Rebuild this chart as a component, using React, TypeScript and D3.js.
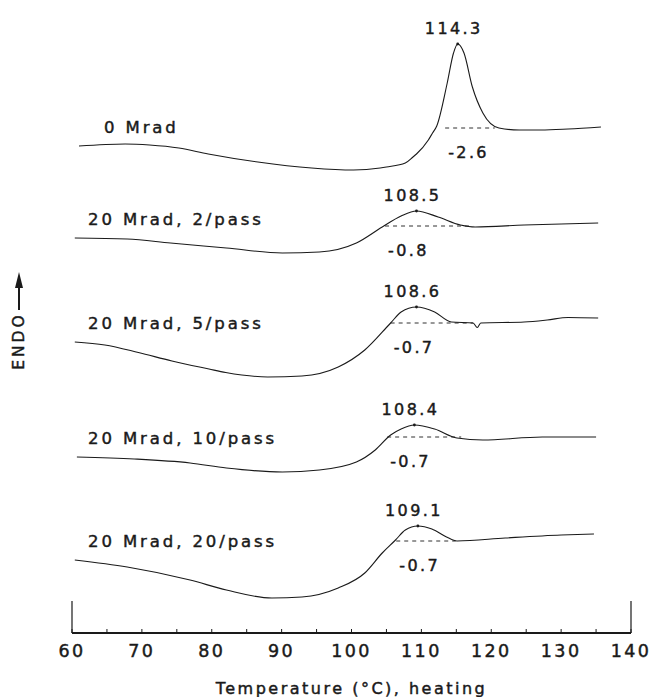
import React from "react";
import * as d3 from "d3";

const WIDTH = 650;
const HEIGHT = 697;
const MARGIN = { left: 72, right: 19, top: 33, bottom: 64 };
const FONT = "'DejaVu Sans', sans-serif";
const INK = "#1a1a1a";

// temperature axis (°C)
const T_DOMAIN: [number, number] = [60, 140];
const MAJOR_TICKS = [60, 70, 80, 90, 100, 110, 120, 130, 140];
const MINOR_TICKS = [65, 75, 85, 95, 105, 115, 125, 135];

// one DSC trace per sample, stacked top to bottom
const SAMPLES = ["0 Mrad", "20 Mrad, 2/pass", "20 Mrad, 5/pass", "20 Mrad, 10/pass", "20 Mrad, 20/pass"];
const PEAK_LABELS = ["114.3", "108.5", "108.6", "108.4", "109.1"];
const DELTA_H = ["-2.6", "-0.8", "-0.7", "-0.7", "-0.7"];
const OFFSETS = [101, 81.4, 62, 39.2, 18.4]; // vertical shift of each trace (a.u.)
const BASELINE_FROM = [113.4, 104.8, 105.6, 105.1, 106.4];
const BASELINE_TO = [120.5, 117.4, 117.4, 115.7, 114.9];

const TEMPS_0 = [61.0, 67.6, 71.1, 75.3, 79.5, 86.6, 94.3, 100.3, 104.1, 105.0, 107.7, 108.8, 109.3, 111.0, 111.6, 112.2, 113.7, 114.6, 115.2, 116.1, 117.3, 118.8, 121.1, 124.0, 127.1, 131.0, 135.7];
const SIGNAL_0 = [-3.6, -3.2, -3.4, -4.0, -5.2, -6.8, -8.0, -8.4, -8.0, -7.8, -7.0, -5.8, -5.2, -2.4, -1.0, 0.4, 9.0, 15.0, 16.8, 15.0, 8.2, 3.0, 0.0, -0.4, -0.4, -0.2, 0.2];

const TEMPS_1 = [60.4, 67.9, 74.1, 82.1, 90.1, 95.4, 100.7, 104.4, 107.1, 109.3, 112.4, 115.6, 117.7, 124.7, 135.3];
const SIGNAL_1 = [-2.4, -2.6, -3.4, -4.4, -5.4, -5.2, -3.4, -0.2, 2.0, 3.0, 1.8, 0.2, -0.2, 0.2, 0.6];

const TEMPS_2 = [60.4, 64.7, 69.5, 74.3, 79.6, 82.0, 84.3, 88.0, 92.9, 98.1, 101.9, 105.6, 107.1, 109.3, 111.9, 114.3, 117.4, 118.0, 118.5, 124.7, 128.0, 131.0, 135.3];
const SIGNAL_2 = [-3.8, -4.4, -5.9, -7.6, -9.2, -9.9, -10.4, -10.8, -10.6, -8.8, -5.4, 0.0, 2.2, 3.2, 2.2, 0.2, 0.0, -0.9, 0.0, 0.2, 0.6, 1.1, 1.0];

const TEMPS_3 = [60.7, 68.9, 76.9, 82.1, 90.1, 95.4, 100.7, 103.4, 105.6, 107.1, 109.0, 111.9, 115.1, 118.8, 127.3, 135.0];
const SIGNAL_3 = [-4.0, -4.4, -5.2, -6.2, -7.0, -6.6, -5.0, -2.6, 0.4, 1.6, 2.4, 1.6, -0.2, -0.6, 0.0, 0.0];

const TEMPS_4 = [60.4, 67.9, 76.9, 82.1, 88.6, 92.9, 98.1, 101.9, 104.4, 106.3, 107.7, 109.5, 111.5, 113.6, 115.1, 122.0, 130.0, 134.7];
const SIGNAL_4 = [-3.8, -5.2, -7.8, -9.8, -11.4, -11.2, -9.4, -6.4, -2.4, 0.2, 2.2, 3.0, 2.4, 0.8, 0.0, 0.6, 1.2, 1.4];

const TEMPS = [TEMPS_0, TEMPS_1, TEMPS_2, TEMPS_3, TEMPS_4];
const SIGNALS = [SIGNAL_0, SIGNAL_1, SIGNAL_2, SIGNAL_3, SIGNAL_4];

export default function App() {
  const axisY = HEIGHT - MARGIN.bottom;

  const xScale = d3.scaleLinear().domain(T_DOMAIN).range([MARGIN.left, WIDTH - MARGIN.right]);
  const yScale = d3.scaleLinear().domain([0, 120]).range([axisY, MARGIN.top]);

  const traces = SAMPLES.map((name, i) => {
    const pts: [number, number][] = TEMPS[i].map((t, j) => [t, SIGNALS[i][j] + OFFSETS[i]]);
    const line = d3
      .line<[number, number]>()
      .x((d) => xScale(d[0]))
      .y((d) => yScale(d[1]))
      .curve(d3.curveMonotoneX);
    const peak = d3.maxIndex(SIGNALS[i]);
    return {
      name,
      path: line(pts) || "",
      start: pts[0],
      peak: pts[peak],
      i,
    };
  });

  // slightly heavier lettering, like the stencil text of the original
  const textStyle = {
    fontFamily: FONT,
    fill: INK,
    stroke: INK,
    strokeWidth: 0.45,
    letterSpacing: "2.4px",
  };

  return (
    <svg
      width={WIDTH}
      height={HEIGHT}
      style={{ position: "absolute", left: 0, top: 0, background: "#fff" }}
    >
      <rect width={WIDTH} height={HEIGHT} fill="#fff" />

      {traces.map((tr) => {
        const i = tr.i;
        const baseY = yScale(OFFSETS[i]);
        const px = xScale(tr.peak[0]);
        const py = yScale(tr.peak[1]);
        return (
          <g key={tr.name}>
            <path d={tr.path} fill="none" stroke={INK} strokeWidth={1.1} />
            <line
              x1={xScale(BASELINE_FROM[i])}
              x2={xScale(BASELINE_TO[i])}
              y1={baseY}
              y2={baseY}
              stroke={INK}
              strokeWidth={0.9}
              strokeDasharray="4 4"
            />
            <circle cx={px} cy={py} r={1.4} fill={INK} />
            <text x={px - 4} y={py - 10} textAnchor="middle" fontSize={16} style={textStyle}>
              {PEAK_LABELS[i]}
            </text>
            <text x={xScale(BASELINE_FROM[i]) + 3} y={baseY + 30} fontSize={16} style={textStyle}>
              {DELTA_H[i]}
            </text>
            <text
              x={i === 0 ? 104 : 88}
              y={yScale(tr.start[1]) - 13}
              fontSize={16.5}
              style={{ ...textStyle, letterSpacing: "2.9px" }}
            >
              {tr.name}
            </text>
          </g>
        );
      })}

      {/* ENDO arrow */}
      <g transform={`translate(19, 341)`}>
        <text
          transform="rotate(-90)"
          textAnchor="middle"
          dy="0.35em"
          fontSize={15.5}
          style={{ ...textStyle, letterSpacing: "3px" }}
        >
          ENDO
        </text>
      </g>
      <line x1={19} x2={19} y1={310} y2={284} stroke={INK} strokeWidth={2} />
      <path d="M19,272 L15,288 L23,288 Z" fill={INK} />

      {/* temperature axis */}
      <line x1={xScale(60)} x2={xScale(140)} y1={axisY} y2={axisY} stroke={INK} strokeWidth={2} />
      <line x1={xScale(60)} x2={xScale(60)} y1={axisY} y2={axisY - 32} stroke={INK} strokeWidth={1.2} />
      <line x1={xScale(140)} x2={xScale(140)} y1={axisY} y2={axisY - 32} stroke={INK} strokeWidth={1.2} />
      {[...MAJOR_TICKS, ...MINOR_TICKS].map((t) => (
        <line key={t} x1={xScale(t)} x2={xScale(t)} y1={axisY} y2={axisY - 4} stroke={INK} strokeWidth={1} />
      ))}
      {MAJOR_TICKS.map((t) => (
        <text key={t} x={xScale(t)} y={axisY + 24} textAnchor="middle" fontSize={17.5} style={textStyle}>
          {t}
        </text>
      ))}
      <text
        x={(xScale(60) + xScale(140)) / 2}
        y={axisY + 61}
        textAnchor="middle"
        fontSize={16}
        style={{ ...textStyle, letterSpacing: "2.5px" }}
      >
        Temperature (°C), heating
      </text>
    </svg>
  );
}
